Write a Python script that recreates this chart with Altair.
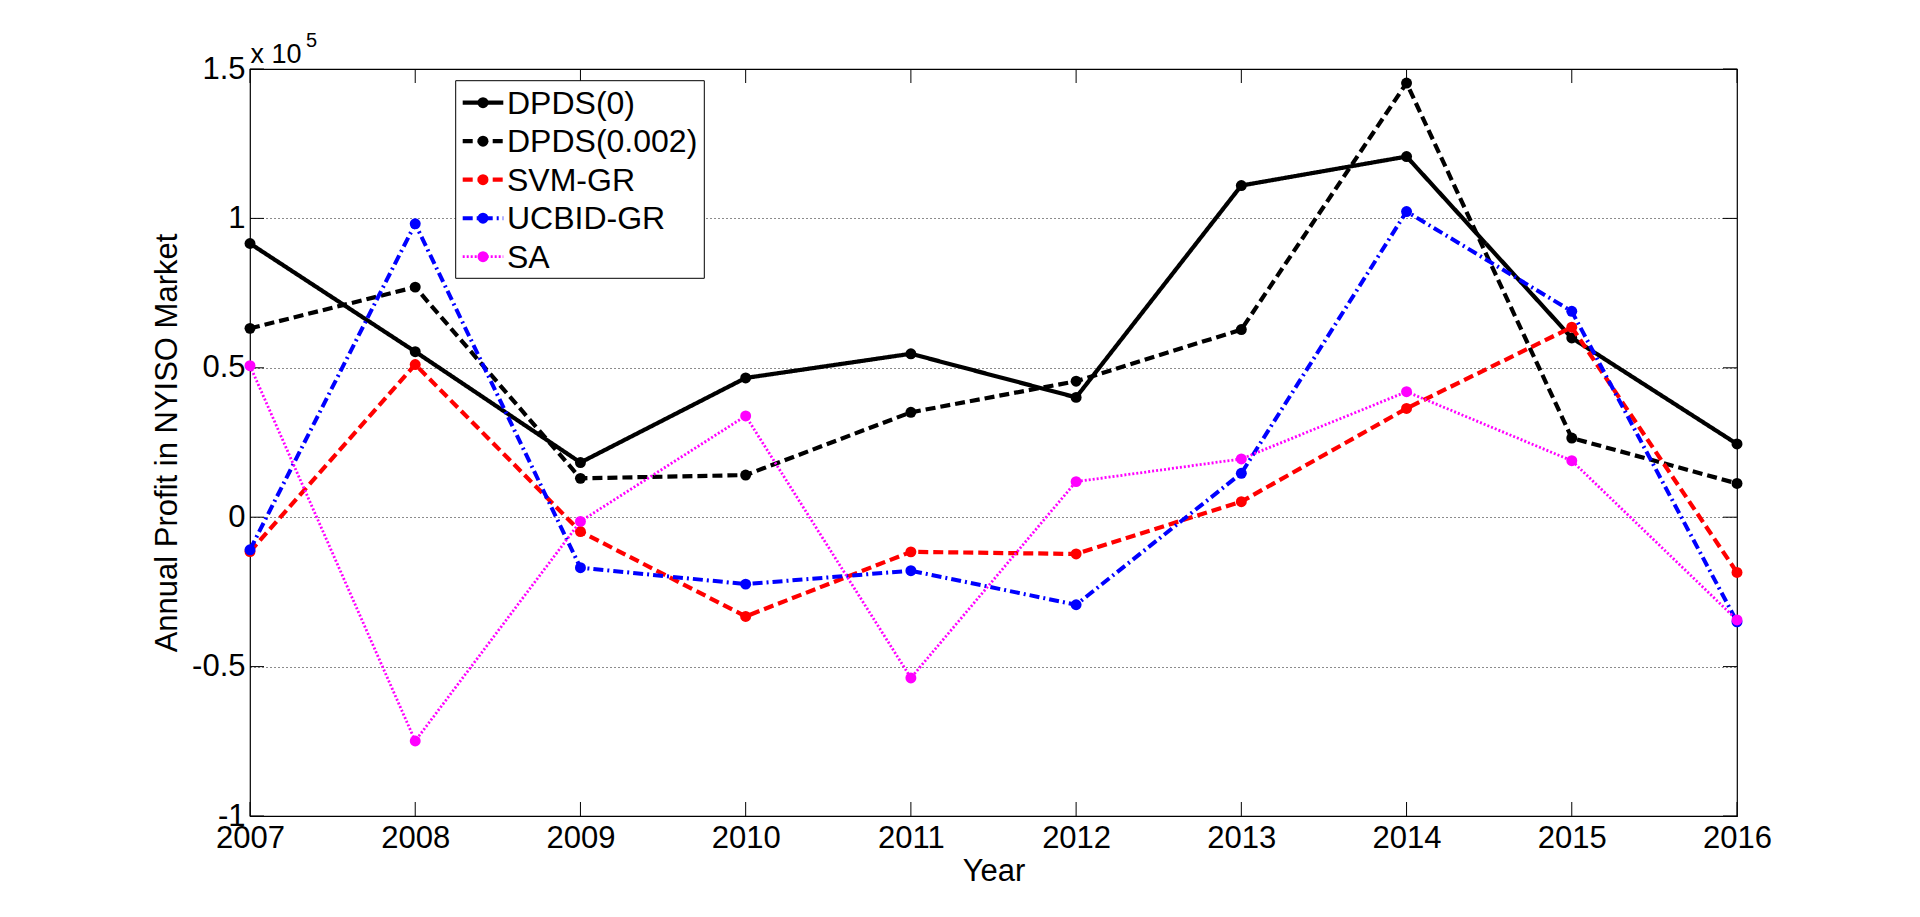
import altair as alt
import pandas as pd

years = [2007, 2008, 2009, 2010, 2011, 2012, 2013, 2014, 2015, 2016]
series_names = ["DPDS(0)", "DPDS(0.002)", "SVM-GR", "UCBID-GR", "SA"]
dpds0 = [91600, 55400, 18300, 46600, 54700, 40100, 111000, 120700, 60000, 24500]
dpds002 = [63200, 77000, 13000, 14100, 35100, 45500, 62800, 145300, 26500, 11300]
svm_gr = [-11500, 51100, -4800, -33200, -11600, -12300, 5200, 36400, 63600, -18500]
ucbid_gr = [-10900, 98200, -16900, -22400, -17900, -29300, 14700, 102300, 68900, -35000]
sa = [50700, -74900, -1400, 33900, -53800, 11900, 19500, 42000, 18900, -34400]
all_values = [dpds0, dpds002, svm_gr, ucbid_gr, sa]

colors = ["#000000", "#000000", "#ff0000", "#0000ff", "#ff00ff"]
dashes = [[1, 0], [10, 5], [10, 5], [10, 4, 2, 4], [2, 2]]
widths = [4.2, 4.2, 4.2, 4.0, 2.8]

y_ticks = [-100000, -50000, 0, 50000, 100000, 150000]

W, H = 1487, 747
FONT = "Liberation Sans"

rows = []
for name, vals in zip(series_names, all_values):
    for yr, v in zip(years, vals):
        rows.append({"year": yr, "val": v, "series": name})
df = pd.DataFrame(rows)

xscale = alt.Scale(domain=[2007, 2016], nice=False, zero=False)
yscale = alt.Scale(domain=[-100000, 150000], nice=False, zero=False)

x_axis = alt.Axis(values=years, format="d", title="Year", grid=False,
                  ticks=False, tickSize=0, domain=False,
                  labelFontSize=31, labelFont=FONT, labelColor="black",
                  labelPadding=7, labelFlush=False, labelOverlap=False,
                  titleFontSize=31, titleFont=FONT, titleFontWeight="normal",
                  titleColor="black", titleX=W / 2, titleY=64,
                  titleBaseline="alphabetic", titleAlign="center")
y_axis = alt.Axis(values=y_ticks, labelExpr="toString(datum.value/100000)",
                  title="Annual Profit in NYISO Market", grid=True,
                  gridDash=[1, 3], gridColor="black", gridWidth=1, gridOpacity=0.9,
                  ticks=False, tickSize=0, domain=False,
                  labelFontSize=31, labelFont=FONT, labelColor="black",
                  labelPadding=5, labelFlush=False, labelOverlap=False,
                  labelBaseline="middle",
                  titleFontSize=31, titleFont=FONT, titleFontWeight="normal",
                  titleColor="black", titleX=-74, titleY=H / 2,
                  titleAngle=270, titleBaseline="alphabetic", titleAlign="center")

layers = []

# inward ticks (drawn through the shared scales)
ydf = pd.DataFrame({"val": y_ticks})
xdf = pd.DataFrame({"year": years})
tick_y = alt.Chart(ydf)
tick_x = alt.Chart(xdf)
layers.append(tick_y.mark_rule(color="black", strokeWidth=1).encode(
    y=alt.Y("val:Q", scale=yscale, axis=y_axis), x=alt.value(0), x2=alt.value(14)))
layers.append(tick_y.mark_rule(color="black", strokeWidth=1).encode(
    y=alt.Y("val:Q", scale=yscale, axis=y_axis), x=alt.value(W - 14), x2=alt.value(W)))
layers.append(tick_x.mark_rule(color="black", strokeWidth=1).encode(
    x=alt.X("year:Q", scale=xscale, axis=x_axis), y=alt.value(H - 14), y2=alt.value(H)))
layers.append(tick_x.mark_rule(color="black", strokeWidth=1).encode(
    x=alt.X("year:Q", scale=xscale, axis=x_axis), y=alt.value(0), y2=alt.value(14)))

base = alt.Chart(df)
for name, c, d, w in zip(series_names, colors, dashes, widths):
    sub = base.transform_filter(alt.datum.series == name)
    enc = dict(x=alt.X("year:Q", scale=xscale, axis=x_axis),
               y=alt.Y("val:Q", scale=yscale, axis=y_axis))
    layers.append(sub.mark_line(color=c, strokeWidth=w, strokeDash=d).encode(**enc))
    layers.append(sub.mark_point(color=c, filled=True, opacity=1, size=120).encode(**enc))

# legend
one = alt.Chart(pd.DataFrame({"k": [0]}))
layers.append(one.mark_rect(fill="white", stroke="black", strokeWidth=1).encode(
    x=alt.value(205.7), x2=alt.value(454.3), y=alt.value(11.7), y2=alt.value(209.3)))
for i, (name, c, d, w) in enumerate(zip(series_names, colors, dashes, widths)):
    ly = 33.7 + 38.5 * i
    layers.append(one.mark_rule(color=c, strokeWidth=w, strokeDash=d).encode(
        x=alt.value(212.7), x2=alt.value(253.3), y=alt.value(ly)))
    layers.append(one.mark_point(color=c, filled=True, opacity=1, size=120).encode(
        x=alt.value(233), y=alt.value(ly)))
    layers.append(one.mark_text(text=name, font=FONT, fontSize=32, color="black",
                                align="left", baseline="middle").encode(
        x=alt.value(257), y=alt.value(ly + 1)))

# exponent annotation
layers.append(one.mark_text(text="x 10", font=FONT, fontSize=27, color="black",
                            align="left", baseline="alphabetic").encode(
    x=alt.value(0.5), y=alt.value(-6)))
layers.append(one.mark_text(text="5", font=FONT, fontSize=20, color="black",
                            align="left", baseline="alphabetic").encode(
    x=alt.value(56), y=alt.value(-22)))

chart = alt.layer(*layers).properties(
    width=W, height=H,
    padding={"left": 242, "top": 61, "right": 170, "bottom": 90},
    autosize="none",
    background="white",
).configure_view(stroke="black", strokeWidth=1.2)

chart.save("out.html", embed_options={"renderer": "svg", "actions": False})
